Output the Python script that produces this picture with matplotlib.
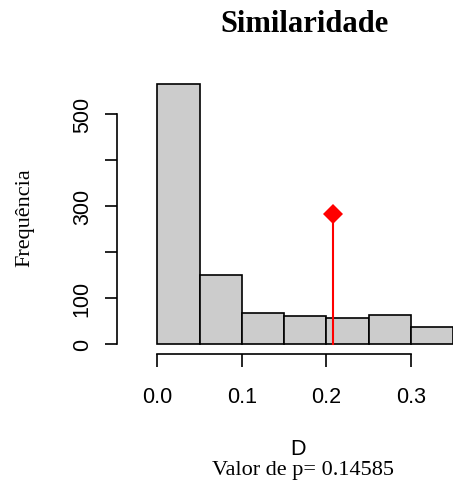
import matplotlib.pyplot as plt
import numpy as np

# histogram data (bins of width 0.05)
bin_edges = [0.0, 0.05, 0.10, 0.15, 0.20, 0.25, 0.30, 0.35]
counts = [566, 151, 68, 61, 56, 62, 37]
d_obs = 0.2076
d_obs_height = 283
x_ticks = [0.0, 0.1, 0.2, 0.3]
y_ticks = [0, 100, 200, 300, 400, 500]
y_labels = ["0", "100", "", "300", "", "500"]
p_value = "0.14585"

sans = "Liberation Sans"
serif = "Liberation Serif"

W, H = 453, 485
fig = plt.figure(figsize=(W / 100, H / 100), dpi=100)

# axes placed in pixel terms
ax_left, ax_right = 117.3, 453.0
ax_top, ax_bottom = 74.2, 355.4
ax = fig.add_axes([ax_left / W, 1 - ax_bottom / H,
                   (ax_right - ax_left) / W, (ax_bottom - ax_top) / H])

widths = np.diff(bin_edges)
ax.bar(bin_edges[:-1], counts, width=widths, align="edge",
       color="#CCCCCC", edgecolor="black", linewidth=1.2, clip_on=True)

# observed value
ax.plot([d_obs, d_obs], [0, d_obs_height], color="red", linewidth=1.5)
ax.plot([d_obs], [d_obs_height], marker="D", markersize=10,
        color="red", markeredgewidth=0)

ax.set_xlim(-0.0473, 0.35)
ax.set_ylim(-22.6, 588.6)

for s in ["top", "right"]:
    ax.spines[s].set_visible(False)
ax.spines["bottom"].set_bounds(0, 0.3)
ax.spines["left"].set_bounds(0, 500)
ax.spines["bottom"].set_linewidth(1.2)
ax.spines["left"].set_linewidth(1.2)

ax.set_xticks(x_ticks)
ax.set_xticklabels([f"{v:.1f}" for v in x_ticks], fontfamily=sans, fontsize=15.5)
ax.set_yticks(y_ticks)
ax.set_yticklabels(y_labels, fontfamily=sans, fontsize=15.5,
                   rotation=90, va="center")
ax.tick_params(axis="x", length=9.5, width=1.2, pad=13)
ax.tick_params(axis="y", length=8.6, width=1.2, pad=9)

# titles and labels
fig.text(304 / W, 1 - 25 / H, "Similaridade", fontfamily=serif,
         fontweight="bold", fontsize=22, ha="center", va="center")
fig.text(25 / W, 1 - 218 / H, "Frequência", fontfamily=serif,
         fontsize=16, rotation=90, ha="center", va="center")
fig.text(298 / W, 1 - 450 / H, "D", fontfamily=sans,
         fontsize=15.5, ha="center", va="center")
fig.text(303 / W, 1 - 471 / H, "Valor de p= " + p_value, fontfamily=serif,
         fontsize=16, ha="center", va="center")

plt.savefig("out.png", dpi=100)
